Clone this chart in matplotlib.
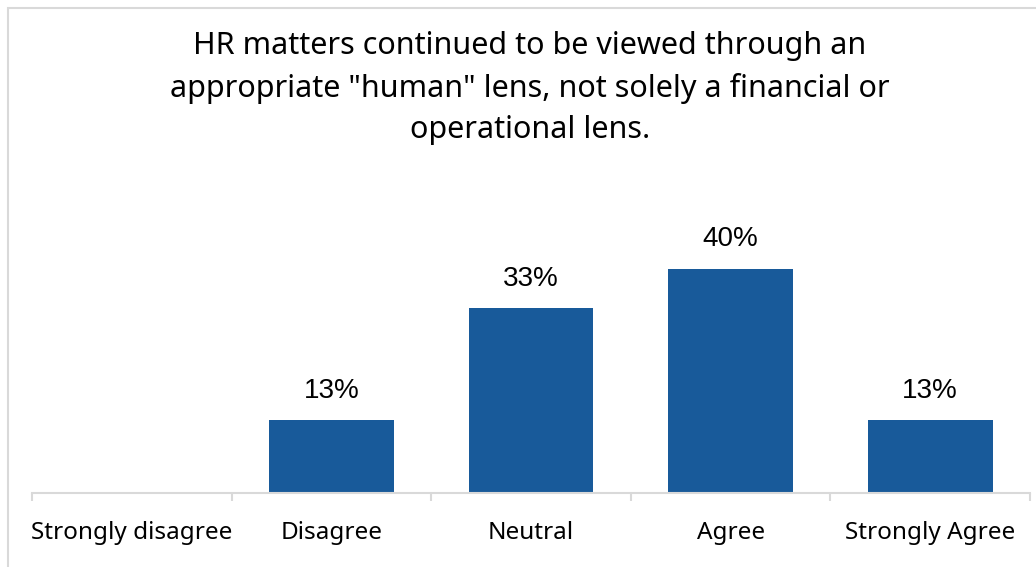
import numpy as np
import matplotlib
matplotlib.use("Agg")
import matplotlib.pyplot as plt
from matplotlib.patches import Rectangle

# Survey responses, share of respondents (%)
categories = ["Strongly disagree", "Disagree", "Neutral", "Agree", "Strongly Agree"]
values = [0, 13, 33, 40, 13]
title = ('HR matters continued to be viewed through an\n'
         'appropriate "human" lens, not solely a financial or\n'
         'operational lens.')

BAR_COLOR = "#185A9A"
AXIS_GREY = "#D9D9D9"

W, H = 1036, 567
fig = plt.figure(figsize=(W / 100, H / 100), dpi=100)

# light chart-area border, left and top edges show
fig.patches.append(Rectangle((8 / W, -0.5), 2.0, 1.5 - 8 / H, transform=fig.transFigure,
                             fill=False, edgecolor=AXIS_GREY, linewidth=1.5))

ax = fig.add_axes([32 / W, (H - 493) / H, (1030 - 32) / W, 313 / H])
x = np.arange(len(categories))
ax.bar(x, values, width=0.625, color=BAR_COLOR)

for xi, v in zip(x, values):
    if v > 0:
        ax.annotate(f"{v}%", (xi, v), xytext=(0, 12), textcoords="offset points",
                    ha="center", va="bottom", fontsize=20,
                    family="Liberation Sans", color="black")

ax.set_xlim(-0.5, len(categories) - 0.5)
ax.set_ylim(0, 313 / 5.6)

for side in ("top", "right", "left"):
    ax.spines[side].set_visible(False)
ax.spines["bottom"].set_color(AXIS_GREY)
ax.spines["bottom"].set_linewidth(1.5)

ax.set_yticks([])
ax.set_xticks(x)
ax.set_xticklabels(categories, fontsize=17.5, family="Noto Sans")
ax.tick_params(axis="x", length=0, pad=20)
# separators between categories
ax.set_xticks(np.arange(len(categories) + 1) - 0.5, minor=True)
ax.tick_params(axis="x", which="minor", length=6, width=1.5, color=AXIS_GREY)

fig.text(530 / W, 1 - 88 / H, title, ha="center", va="center", fontsize=22,
         family="Noto Sans", linespacing=1.5)

fig.savefig("out.png", dpi=100)
